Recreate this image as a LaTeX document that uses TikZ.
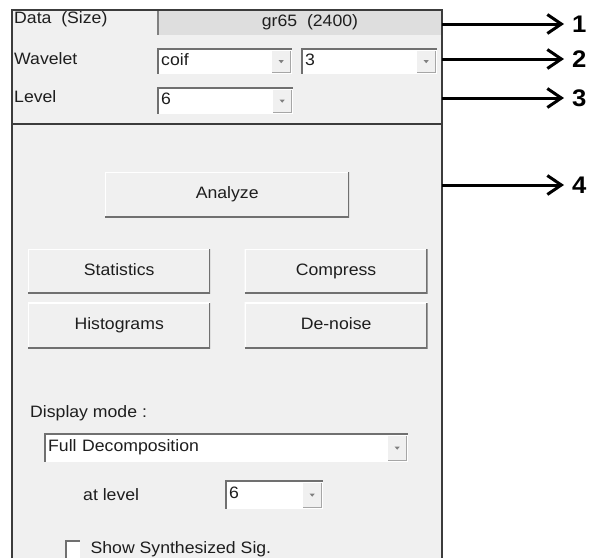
\documentclass[tikz,border=0pt]{standalone}
\usepackage{fontspec}
\setmainfont{Liberation Sans}[FakeStretch=1.07]
\usetikzlibrary{positioning,arrows.meta}

\definecolor{panel}{HTML}{F0F0F0}
\definecolor{headgray}{HTML}{DEDEDE}
\definecolor{frame}{HTML}{3C3C3C}
\definecolor{edge}{HTML}{707070}
\definecolor{ink}{HTML}{1E1E1E}

\tikzset{
  btn/.style={rectangle, fill=panel, anchor=north west, inner sep=0pt, text=ink,
    text height=12pt, text depth=3.5pt,
    path picture={
      \draw[white, line width=2pt] (path picture bounding box.south west) -- (path picture bounding box.north west) -- (path picture bounding box.north east);
      \draw[edge, line width=3pt] (path picture bounding box.south west) -- (path picture bounding box.south east) -- (path picture bounding box.north east);}},
  combo/.style={rectangle, fill=white, anchor=north west, inner xsep=4pt, inner ysep=0pt,
    text width=#1, align=left, text=ink, text height=12pt, text depth=3.5pt,
    path picture={
      \draw[edge, line width=3pt] (path picture bounding box.south west) -- (path picture bounding box.north west) -- (path picture bounding box.north east);
      \fill[panel] ([xshift=-20pt,yshift=1pt]path picture bounding box.south east) rectangle ([xshift=-2pt,yshift=-3pt]path picture bounding box.north east);
      \draw[gray!70, line width=1.5pt] ([xshift=-20pt,yshift=1.5pt]path picture bounding box.south east) -- ([xshift=-1.5pt,yshift=1.5pt]path picture bounding box.south east) -- ([xshift=-1.5pt,yshift=-3pt]path picture bounding box.north east);
      \fill[gray] ([xshift=-11pt]path picture bounding box.east) ++(-2.5pt,1pt) -- ++(5pt,0pt) -- ++(-2.5pt,-3pt) -- cycle;}},
  txt/.style={anchor=west, inner sep=0pt, text=ink},
  num/.style={anchor=west, inner sep=0pt, font=\fontsize{24}{26}\selectfont\bfseries},
  pointer/.style={line width=3pt, -{Straight Barb[length=14pt,width=19pt]}, shorten >=8pt}
}

\begin{document}
\begin{tikzpicture}[x=1pt,y=-1pt,font=\fontsize{16.5}{18}\selectfont]
\useasboundingbox (0,0) rectangle (594,558);

% window panel
\fill[panel] (12,10) rectangle (442,558);
\fill[headgray] (157,10) rectangle (442,35);
\draw[gray, line width=2pt] (158,10) -- (158,35);
\draw[frame, line width=2pt] (12,558) -- (12,10) -- (442,10) -- (442,558);
\draw[frame, line width=1.5pt] (12,124) -- (442,124);

% header rows
\node[txt] (data)  at (14,19) {Data\ \ (Size)};
\node[text=ink] (size) at (310,22) {gr65\ \ (2400)};
\node[txt] (wlab)  at (14,59) {Wavelet};
\node[txt] (llab)  at (14,97) {Level};
\node[combo=127pt, minimum height=26pt] (wfam) at (157,48) {coif};
\node[combo=128pt, minimum height=26pt] (wnum) at (301,48) {3};
\node[combo=128pt, minimum height=27pt] (lev)  at (157,87) {6};

% buttons
\node[btn, minimum width=244pt, minimum height=45pt] (analyze) at (105,172) {Analyze};
\node[btn, minimum width=182pt, minimum height=44pt] (stats) at (28,249) {Statistics};
\node[btn, minimum width=183pt, minimum height=44pt, right=34pt of stats.north east, anchor=north west] (compress) {Compress};
\node[btn, minimum width=182pt, minimum height=46pt, below=9pt of stats.south west, anchor=north west] (histo) {Histograms};
\node[btn, minimum width=183pt, minimum height=46pt, below=9pt of compress.south west, anchor=north west] (denoise) {De-noise};

% display mode
\node[txt] (dmode) at (30,413) {Display mode :};
\node[combo=356pt, minimum height=29pt] (full) at (44,433) {Full Decomposition};
\node[txt] (atlab) at (83,495) {at level};
\node[combo=90pt, minimum height=29pt] (atlev) at (225,480) {6};
\node[rectangle, fill=white, anchor=north west, minimum width=15pt, minimum height=18pt, inner sep=0pt,
  path picture={\draw[edge, line width=3pt] (path picture bounding box.south west) -- (path picture bounding box.north west) -- (path picture bounding box.north east);}] (chk) at (65,540) {};
\node[txt, right=10pt of chk.east] (show) {Show Synthesized Sig.};

% callouts
\foreach \i/\y in {1/24, 2/59, 3/98, 4/185} {
  \coordinate (e\i) at (442,\y);
  \node[num] (n\i) at (572,\y) {\i};
  \draw[pointer] (e\i) -- (n\i.west);
}
\end{tikzpicture}
\end{document}
